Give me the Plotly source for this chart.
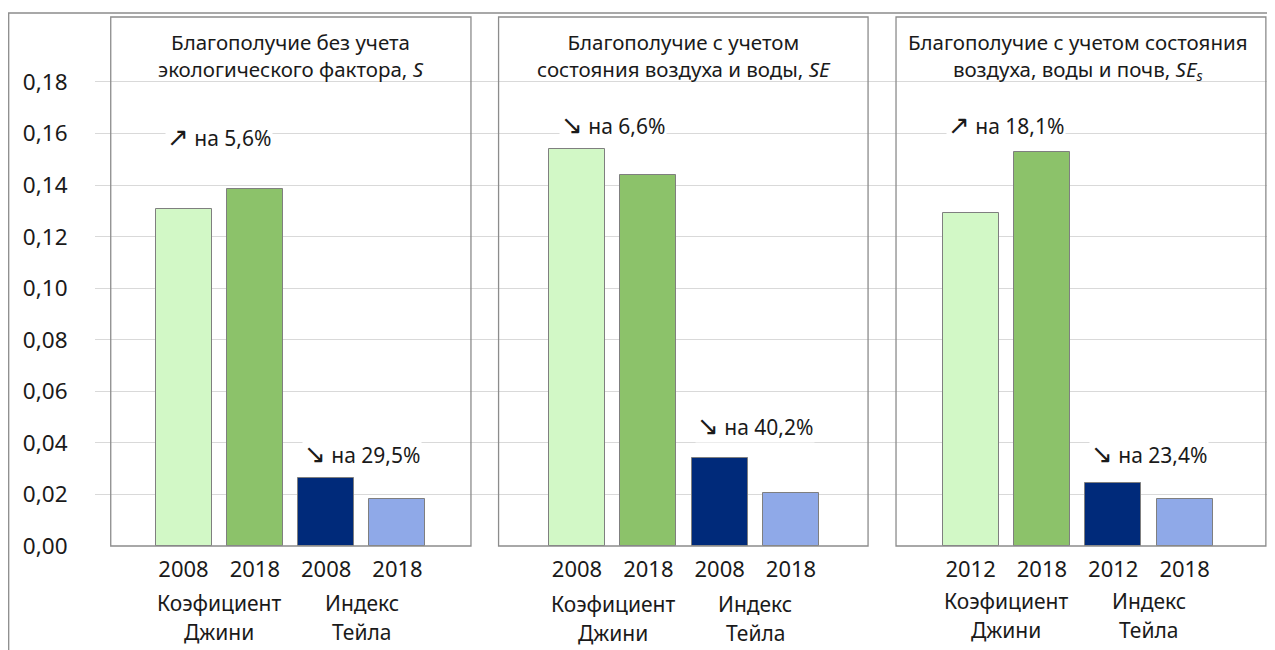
import plotly.graph_objects as go

# ---------------- data ----------------
panel_titles = [
    "Благополучие без учета<br>экологического фактора, <i>S</i>",
    "Благополучие с учетом<br>состояния воздуха и воды, <i>SE</i>",
    "Благополучие с учетом состояния<br>воздуха, воды и почв, <i>SE<sub>s</sub></i>",
]
years = [
    ["2008", "2018", "2008", "2018"],
    ["2008", "2018", "2008", "2018"],
    ["2012", "2018", "2012", "2018"],
]
gini_first = [0.1307, 0.1540, 0.1290]
gini_last = [0.1385, 0.1439, 0.1530]
theil_first = [0.0265, 0.0340, 0.0246]
theil_last = [0.0183, 0.0206, 0.0183]
gini_arrow = ["↗", "↘", "↗"]
gini_change = ["на 5,6%", "на 6,6%", "на 18,1%"]
theil_arrow = ["↘", "↘", "↘"]
theil_change = ["на 29,5%", "на 40,2%", "на 23,4%"]
group_labels = [["Коэфициент", "Джини"], ["Индекс", "Тейла"]]
y_ticks = [0.00, 0.02, 0.04, 0.06, 0.08, 0.10, 0.12, 0.14, 0.16, 0.18]

# ---------------- styles / layout ----------------
colors = ["#D2F8C6", "#8CC26A", "#002A7A", "#8FA9E8"]
FONT = "Noto Sans"
TXT = "#1a1a1a"
G = 5.517          # distance between panels in bar slots
BAR_W = 0.785
pad_left = [1.02, 1.10, 1.045]
pad_right = [1.03, 1.08, 1.14]
gini_label_y = [0.1587, 0.1633, 0.1633]
theil_label_y = [0.0357, 0.0466, 0.0357]
group_label_shift = [0, 1, -2]

W, H = 1267, 642
ML, MT, MB = 87, 9, 104
PW = W - ML
PH = H - MT - MB

fig = go.Figure()

tickvals, ticktext = [], []
for p in range(3):
    vals = [gini_first[p], gini_last[p], theil_first[p], theil_last[p]]
    xs = [p * G + i for i in range(4)]
    for i in range(4):
        fig.add_trace(go.Bar(
            x=[xs[i]], y=[vals[i]], width=BAR_W,
            marker=dict(color=colors[i], line=dict(color="#7F7F7F", width=1)),
            showlegend=False, hoverinfo="y",
        ))
    tickvals += xs
    ticktext += years[p]

    # panel box
    fig.add_shape(type="rect", xref="x", yref="paper",
                  x0=p * G - pad_left[p], x1=p * G + 3 + pad_right[p], y0=0, y1=1,
                  line=dict(color="#8C8C8C", width=1.3), fillcolor="rgba(0,0,0,0)")
    # title
    fig.add_annotation(x=p * G + 1.5, xref="x", y=1 - 9 / PH, yref="paper",
                       yanchor="top", text=panel_titles[p], showarrow=False,
                       font=dict(family=FONT, size=20.5, color=TXT))
    # change labels
    arrow_fmt = '<span style="font-family:DejaVu Sans;font-size:26px">{}</span> {}'
    fig.add_annotation(x=p * G + 0.5, y=gini_label_y[p],
                       text=arrow_fmt.format(gini_arrow[p], gini_change[p]),
                       showarrow=False, bgcolor="white",
                       font=dict(family=FONT, size=21, color=TXT))
    fig.add_annotation(x=p * G + 2.5, y=theil_label_y[p],
                       text=arrow_fmt.format(theil_arrow[p], theil_change[p]),
                       showarrow=False, bgcolor="white",
                       font=dict(family=FONT, size=21, color=TXT))
    # group labels under axis
    for g in range(2):
        for ln in range(2):
            fig.add_annotation(x=p * G + 0.5 + 2 * g, y=0, yref="paper",
                               yanchor="middle",
                               yshift=-57 - 29 * ln - group_label_shift[p],
                               text=group_labels[g][ln], showarrow=False,
                               font=dict(family=FONT, size=21, color=TXT))

# outer frame (left and top edges visible)
fig.add_shape(type="rect", xref="paper", yref="paper",
              x0=(0.7 - ML) / PW, x1=1.05, y0=-0.4, y1=1 + 4 / PH,
              line=dict(color="#8C8C8C", width=1.3), fillcolor="rgba(0,0,0,0)",
              layer="above")

fig.update_layout(
    width=W, height=H,
    margin=dict(l=ML, r=0, t=MT, b=MB),
    paper_bgcolor="white", plot_bgcolor="white",
    bargap=0,
    font=dict(family=FONT, color=TXT),
    xaxis=dict(range=[-1.2407, 15.302], tickvals=tickvals, ticktext=ticktext,
               showgrid=False, zeroline=False, showline=False,
               ticks="outside", ticklen=4, tickcolor="rgba(0,0,0,0)",
               tickfont=dict(family=FONT, size=22, color=TXT)),
    yaxis=dict(range=[0, 0.2052], tickvals=y_ticks,
               ticktext=[f"{v:.2f}".replace(".", ",") for v in y_ticks],
               showgrid=True, gridcolor="#D9D9D9", gridwidth=1,
               zeroline=False, showline=False,
               ticks="outside", ticklen=22, tickcolor="rgba(0,0,0,0)",
               tickfont=dict(family=FONT, size=22.5, color=TXT)),
)

fig.write_html("out.html")
